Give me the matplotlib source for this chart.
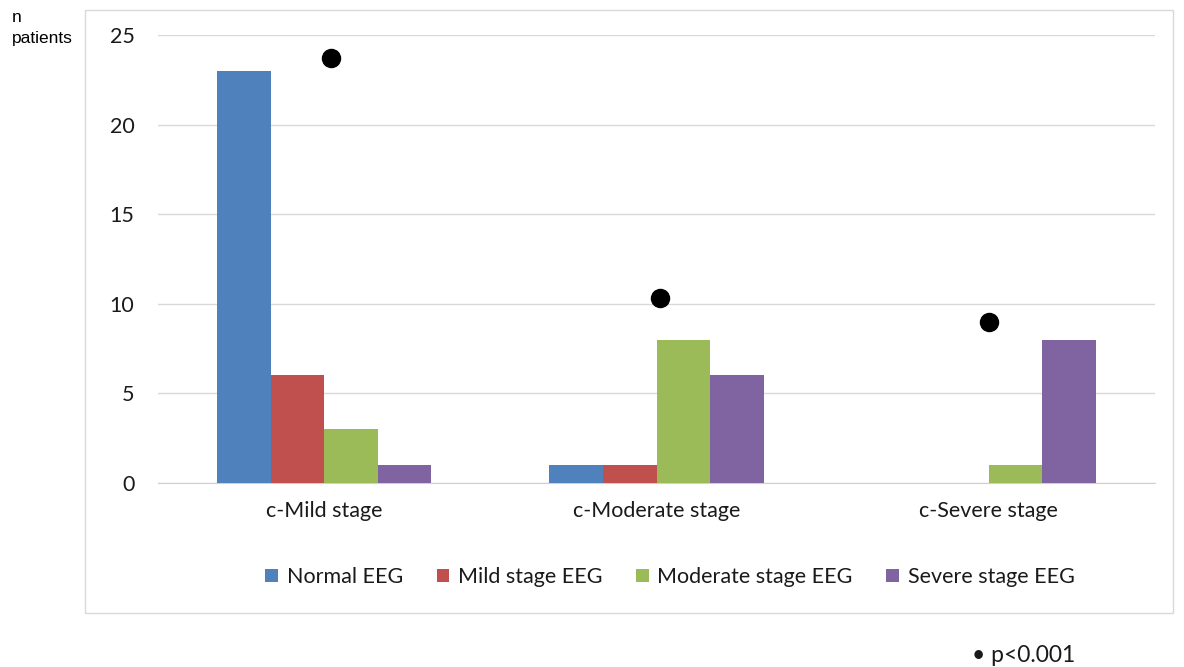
import numpy as np
import matplotlib
matplotlib.use("Agg")
import matplotlib.pyplot as plt
from matplotlib.patches import Rectangle

# data
categories = ["c-Mild stage", "c-Moderate stage", "c-Severe stage"]
series_names = ["Normal EEG", "Mild stage EEG", "Moderate stage EEG", "Severe stage EEG"]
normal_eeg = [23, 1, 0]
mild_eeg = [6, 1, 0]
moderate_eeg = [3, 8, 1]
severe_eeg = [1, 6, 8]
dot_values = [23.7, 10.35, 9.0]
y_ticks = [0, 5, 10, 15, 20, 25]

colors = ["#4F81BD", "#C0504D", "#9BBB59", "#8064A2"]
body_font = "Lato"
txt_color = "#1a1a1a"

fig = plt.figure(figsize=(11.84, 6.67), dpi=100)

# light outer chart frame
fig.patches.append(Rectangle((85 / 1184, 1 - 613 / 667), (1173 - 85) / 1184, (613 - 10) / 667,
                             transform=fig.transFigure, fill=False, edgecolor="#d9d9d9", linewidth=1))

ax = fig.add_axes([158 / 1184, 1 - 483 / 667, 997 / 1184, 448 / 667])

x = np.arange(len(categories))
w = 0.161
all_series = [normal_eeg, mild_eeg, moderate_eeg, severe_eeg]
for i, (vals, name) in enumerate(zip(all_series, series_names)):
    ax.bar(x + (i - 1.5) * w, vals, width=w, color=colors[i], label=name, zorder=3)

dot_shift = [0.02, 0.01, 0.0]
ax.plot(x + np.array(dot_shift), dot_values, "o", color="black", markersize=13,
        linestyle="none", zorder=4)

ax.set_xlim(-0.5, len(categories) - 0.5)
ax.set_ylim(0, 25)
ax.set_yticks(y_ticks)
ax.set_yticklabels([str(t) for t in y_ticks], fontsize=15.5, family=body_font, color=txt_color)
ax.set_xticks(x)
ax.set_xticklabels(categories, fontsize=15.5, family=body_font, color=txt_color)
ax.tick_params(axis="both", length=0)
ax.tick_params(axis="y", pad=17)
ax.tick_params(axis="x", pad=13)
ax.grid(axis="y", color="#d9d9d9", linewidth=1, zorder=0)
for side in ["top", "right", "left"]:
    ax.spines[side].set_visible(False)
ax.spines["bottom"].set_color("#d0d0d0")

leg = fig.legend(loc="center", bbox_to_anchor=(670 / 1184, 1 - 577 / 667), ncol=4, frameon=False,
                 handlelength=0.6, handleheight=0.6, handletextpad=0.4, columnspacing=1.55,
                 prop={"family": body_font, "size": 15.5})
for t in leg.get_texts():
    t.set_color(txt_color)

fig.text(12 / 1184, 1 - 18 / 667, "n", fontsize=12.5, family="Liberation Sans", va="center")
fig.text(12 / 1184, 1 - 39 / 667, "patients", fontsize=12.5, family="Liberation Sans", va="center")
fig.text(972 / 1184, 1 - 656 / 667, "\u2022 p<0.001", fontsize=16.5, family=body_font, va="center",
         color=txt_color)

fig.savefig("out.png", dpi=100)
